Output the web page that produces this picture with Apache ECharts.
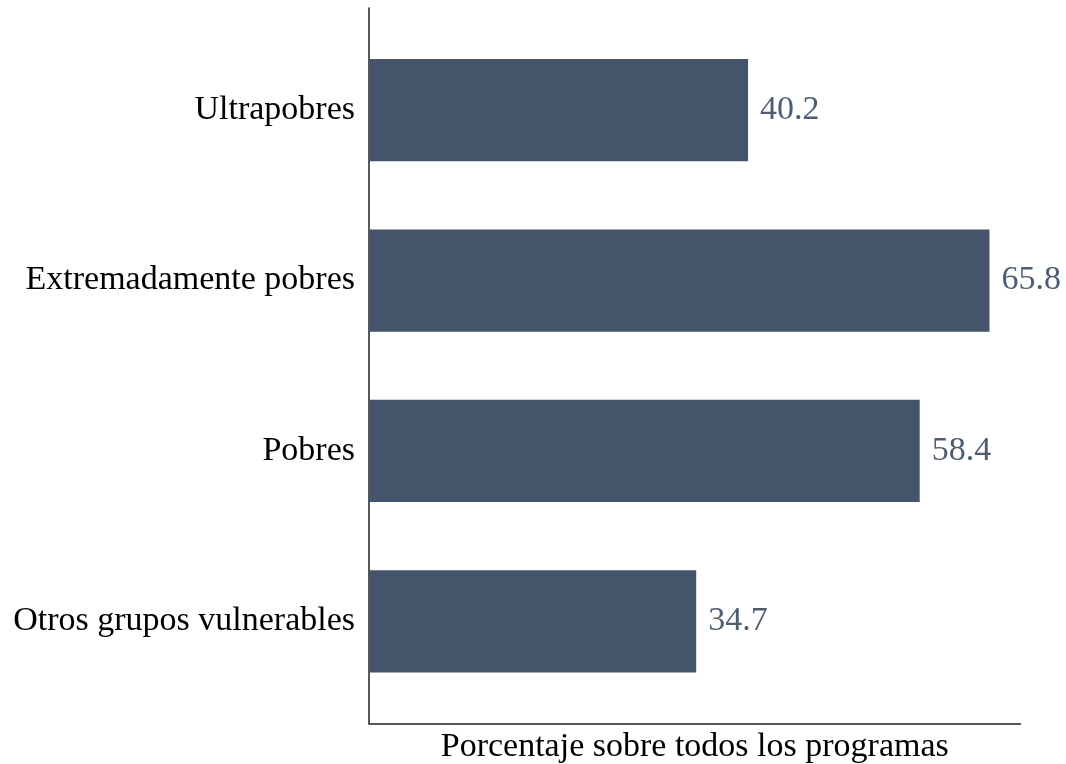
<!DOCTYPE html>
<html>
<head>
<meta charset="utf-8">
<script src="https://cdn.jsdelivr.net/npm/echarts@6/dist/echarts.min.js"></script>
<style>html,body{margin:0;padding:0;background:#fff;}#c{width:1066px;height:764px;}</style>
</head>
<body>
<div id="c"></div>
<script>
var categories = ['Ultrapobres', 'Extremadamente pobres', 'Pobres', 'Otros grupos vulnerables'];
var values = [40.2, 65.8, 58.4, 34.7];
var xAxisTitle = 'Porcentaje sobre todos los programas';

var FONT = '"Liberation Serif", "Times New Roman", serif';
var chart = echarts.init(document.getElementById('c'));
var xMax = 69.09;
chart.setOption({
  backgroundColor: '#ffffff',
  animation: false,
  grid: [
    {left: 369, right: 45.5, top: 8, bottom: 40.5, outerBoundsMode: 'none', containLabel: false},
    {left: 369, right: 45.5, top: 25.04, bottom: 57.54, outerBoundsMode: 'none', containLabel: false}
  ],
  xAxis: [
    {gridIndex: 0, type: 'value', min: 0, max: xMax,
     axisLine: {show: true, lineStyle: {color: '#222', width: 1.5}},
     axisTick: {show: false}, axisLabel: {show: false}, splitLine: {show: false},
     name: xAxisTitle, nameLocation: 'middle', nameGap: 7,
     nameTextStyle: {fontFamily: FONT, fontSize: 34, color: '#000'}},
    {gridIndex: 1, type: 'value', min: 0, max: xMax, show: false, splitLine: {show: false}}
  ],
  yAxis: [
    {gridIndex: 0, type: 'value', min: 0, max: 1,
     axisLine: {show: true, lineStyle: {color: '#222', width: 1.5}},
     axisTick: {show: false}, axisLabel: {show: false}, splitLine: {show: false}},
    {gridIndex: 1, type: 'category', data: categories, inverse: true,
     axisLine: {show: false}, axisTick: {show: false},
     axisLabel: {margin: 14, fontFamily: FONT, fontSize: 34, color: '#000', padding: [5, 0, 0, 0]}}
  ],
  series: [{
    type: 'bar', xAxisIndex: 1, yAxisIndex: 1,
    data: values, barWidth: '60%',
    itemStyle: {color: '#44546A'},
    label: {show: true, position: 'right', distance: 12, padding: [5, 0, 0, 0],
      fontFamily: FONT, fontSize: 34, color: '#4F5D73',
      formatter: function(p){ return p.value.toFixed(1); }}
  }]
});
</script>
</body>
</html>
